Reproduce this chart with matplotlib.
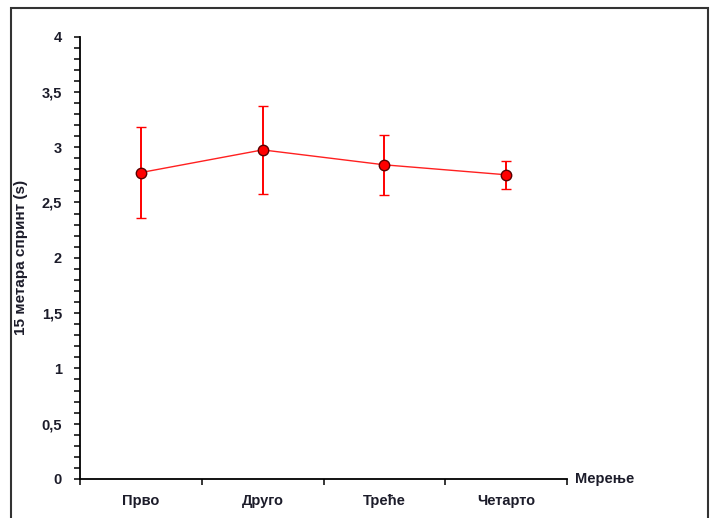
import numpy as np
import matplotlib.pyplot as plt
from matplotlib.patches import Rectangle
from matplotlib.ticker import MultipleLocator

# Подаци (очитано са графика)
merenja = ['Прво', 'Друго', 'Треће', 'Четарто']
sredina = [2.77, 2.975, 2.84, 2.75]
greska = [0.41, 0.40, 0.27, 0.125]
y_oznake = ['0', '0,5', '1', '1,5', '2', '2,5', '3', '3,5', '4']

plt.rcParams['font.family'] = ['Liberation Sans', 'DejaVu Sans']
boja_teksta = '#1c1c2a'
vel = 10.5

fig = plt.figure(figsize=(7.1, 5.18), dpi=100)
# okvir oko slike
fig.patches.append(Rectangle((11 / 710, -0.05), (708 - 11) / 710, 1.05 - 8 / 518,
                             transform=fig.transFigure, fill=False,
                             edgecolor='#333333', linewidth=1.5))

ax = fig.add_axes([80 / 710, 39 / 518, (567 - 80) / 710, (479 - 36.5) / 518])

x = np.arange(len(merenja)) + 0.5
ax.errorbar(x, sredina, yerr=greska, color='#ff2020', linewidth=1.0,
            ecolor='red', elinewidth=1.4, capsize=3.5, capthick=1.4,
            marker='o', markersize=7.5, markerfacecolor='red',
            markeredgecolor='#5a0000', markeredgewidth=1.0, zorder=3)

ax.set_xlim(0, 4)
ax.set_ylim(0, 4)

ax.spines['top'].set_visible(False)
ax.spines['right'].set_visible(False)
ax.spines['left'].set_linewidth(1.3)
ax.spines['bottom'].set_linewidth(1.3)

ax.set_yticks(np.arange(0, 4.01, 0.5))
ax.set_yticklabels(y_oznake, fontweight='bold')
ax.yaxis.set_minor_locator(MultipleLocator(0.1))
ax.tick_params(axis='y', which='both', direction='out', length=4, width=1.1,
               labelsize=vel, labelcolor=boja_teksta, pad=9)

ax.set_xticks(np.arange(0, 5))
ax.set_xticklabels([''] * 5)
ax.tick_params(axis='x', which='major', direction='out', length=4, width=1.1)
for xi, ime in zip(x, merenja):
    ax.text(xi, -0.235, ime, fontsize=vel, fontweight='bold', color=boja_teksta,
            ha='center', va='baseline')

ax.set_ylabel('15 метара спринт (s)', fontsize=11, fontweight='bold',
              color=boja_teksta, labelpad=10)
ax.text(1.017, 0, 'Мерење', transform=ax.transAxes, fontsize=vel,
        fontweight='bold', color=boja_teksta, ha='left', va='center')

fig.savefig('out.png', dpi=100)
